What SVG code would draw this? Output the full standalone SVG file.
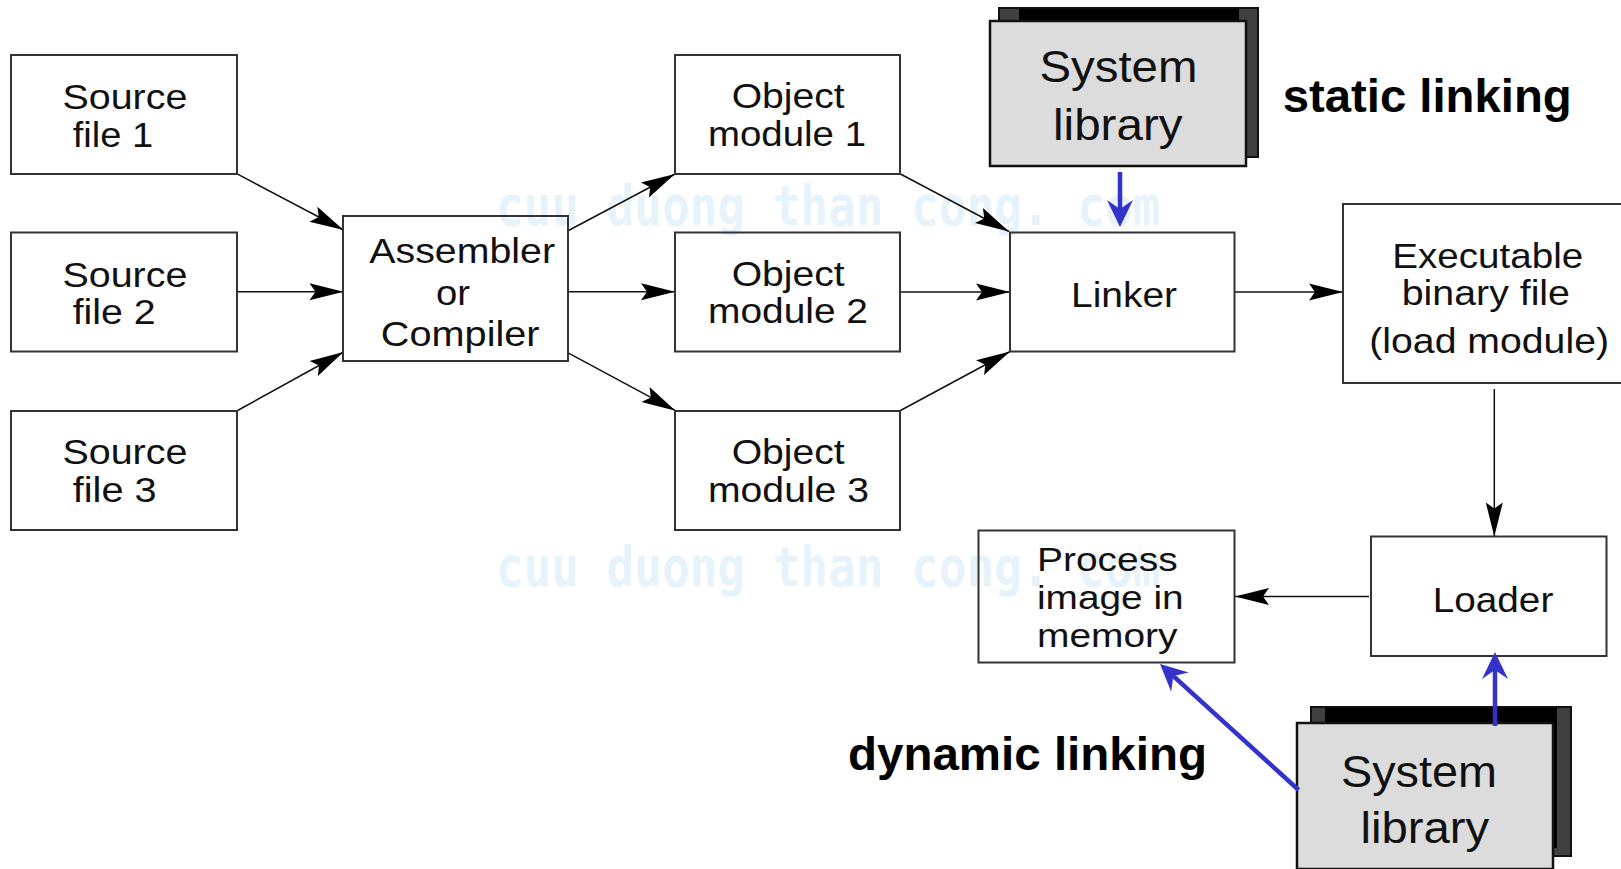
<svg xmlns="http://www.w3.org/2000/svg" width="1621" height="869" viewBox="0 0 1621 869">
<style>
.box{fill:none;stroke:#333;stroke-width:2}
.lib-back{fill:#404040;stroke:#111;stroke-width:2}
.lib-inner{fill:#000}
.lib-front{fill:#dcdcdc;stroke:#111;stroke-width:2.5}
.t{font-family:"Liberation Sans",Arial,Helvetica,sans-serif;font-size:35px;fill:#111}
.tp{font-family:"Liberation Sans",Arial,Helvetica,sans-serif;font-size:33.5px;fill:#111}
.tl{font-family:"Liberation Sans",Arial,Helvetica,sans-serif;font-size:44px;fill:#111}
.tb{font-family:"Liberation Sans",Arial,Helvetica,sans-serif;font-size:46px;font-weight:bold;fill:#000}
.wm{font-family:"DejaVu Sans Mono",monospace;font-size:46px;font-weight:bold;fill:#e6f3fa}
.ln{fill:none;stroke:#111;stroke-width:1.5}
.bl{fill:none;stroke:#3333cc;stroke-width:4.5}
</style>
<defs>
<marker id="ah" viewBox="-36 -10 38 20" refX="0" refY="0" markerWidth="38" markerHeight="20" markerUnits="userSpaceOnUse" orient="auto">
<path d="M0,0 L-34,-8.5 L-28,0 L-34,8.5 Z" fill="#000"/>
</marker>
<marker id="bh" viewBox="-28 -14 30 28" refX="-10" refY="0" markerWidth="30" markerHeight="28" markerUnits="userSpaceOnUse" orient="auto">
<path d="M0,0 L-27,-13 L-18,0 L-27,13 Z" fill="#3333cc"/>
</marker>
</defs>
<rect width="1621" height="869" fill="#fff"/>
<g id="watermark">
<text class="wm" transform="translate(496,225) scale(1,1.2)">cuu duong than cong. com</text>
<text class="wm" transform="translate(496,586) scale(1,1.2)">cuu duong than cong. com</text>
</g>
<g id="connectors">
<path class="ln" marker-end="url(#ah)" d="M236.7,173.7 L343.5,230"/>
<path class="ln" marker-end="url(#ah)" d="M236.7,291.7 L343.5,291.7"/>
<path class="ln" marker-end="url(#ah)" d="M236.7,411 L343.5,352"/>
<path class="ln" marker-end="url(#ah)" d="M567.6,231 L675,174"/>
<path class="ln" marker-end="url(#ah)" d="M567.6,291.7 L675,291.7"/>
<path class="ln" marker-end="url(#ah)" d="M567.6,352.7 L675.5,410.7"/>
<path class="ln" marker-end="url(#ah)" d="M899.5,173.5 L1009,231.5"/>
<path class="ln" marker-end="url(#ah)" d="M899.5,292 L1010,292"/>
<path class="ln" marker-end="url(#ah)" d="M899.5,411 L1010,351.5"/>
<path class="ln" marker-end="url(#ah)" d="M1234.5,292 L1343,292"/>
<path class="ln" marker-end="url(#ah)" d="M1494.3,389 L1494.3,536.5"/>
<path class="ln" marker-end="url(#ah)" d="M1369,596.5 L1235,596.5"/>
</g>
<g id="source1"><rect class="box" x="11" y="55" width="226" height="119"/>
<text class="t" x="62.4" y="109" textLength="125" lengthAdjust="spacingAndGlyphs">Source</text>
<text class="t" x="72.7" y="146.5" textLength="80.4" lengthAdjust="spacingAndGlyphs">file 1</text></g>
<g id="source2"><rect class="box" x="11" y="232.5" width="226" height="119"/>
<text class="t" x="62.4" y="286.5" textLength="125" lengthAdjust="spacingAndGlyphs">Source</text>
<text class="t" x="72.7" y="324" textLength="83" lengthAdjust="spacingAndGlyphs">file 2</text></g>
<g id="source3"><rect class="box" x="11" y="411" width="226" height="119"/>
<text class="t" x="62.4" y="464" textLength="125" lengthAdjust="spacingAndGlyphs">Source</text>
<text class="t" x="72.7" y="502" textLength="84" lengthAdjust="spacingAndGlyphs">file 3</text></g>
<g id="assembler"><rect class="box" x="343" y="216" width="225" height="145"/>
<text class="t" x="369.3" y="263" textLength="185.7" lengthAdjust="spacingAndGlyphs">Assembler</text>
<text class="t" x="436" y="305" textLength="34" lengthAdjust="spacingAndGlyphs">or</text>
<text class="t" x="380.8" y="345.5" textLength="158.8" lengthAdjust="spacingAndGlyphs">Compiler</text></g>
<g id="object1"><rect class="box" x="675" y="55" width="225" height="119"/>
<text class="t" x="731.7" y="108.3" textLength="113" lengthAdjust="spacingAndGlyphs">Object</text>
<text class="t" x="708" y="145.7" textLength="158" lengthAdjust="spacingAndGlyphs">module 1</text></g>
<g id="object2"><rect class="box" x="675" y="232.5" width="225" height="119"/>
<text class="t" x="731.7" y="286" textLength="113" lengthAdjust="spacingAndGlyphs">Object</text>
<text class="t" x="708" y="323.3" textLength="160" lengthAdjust="spacingAndGlyphs">module 2</text></g>
<g id="object3"><rect class="box" x="675" y="411" width="225" height="119"/>
<text class="t" x="731.7" y="464" textLength="113" lengthAdjust="spacingAndGlyphs">Object</text>
<text class="t" x="708" y="502" textLength="161" lengthAdjust="spacingAndGlyphs">module 3</text></g>
<g id="linker"><rect class="box" x="1010" y="232.5" width="224.5" height="119"/>
<text class="t" x="1071" y="307.3" textLength="106" lengthAdjust="spacingAndGlyphs">Linker</text></g>
<g id="executable"><rect class="box" x="1343" y="204" width="290" height="179"/>
<text class="t" x="1392.3" y="268.3" textLength="191" lengthAdjust="spacingAndGlyphs">Executable</text>
<text class="t" x="1401.7" y="305" textLength="168.3" lengthAdjust="spacingAndGlyphs">binary file</text>
<text class="t" x="1369.3" y="353.3" textLength="239.7" lengthAdjust="spacingAndGlyphs">(load module)</text></g>
<g id="loader"><rect class="box" x="1371" y="536.5" width="235.5" height="119.5"/>
<text class="t" x="1432.7" y="612.3" textLength="120.6" lengthAdjust="spacingAndGlyphs">Loader</text></g>
<g id="process"><rect class="box" x="978.5" y="530.5" width="256" height="132"/>
<text class="tp" x="1037" y="571" textLength="140.6" lengthAdjust="spacingAndGlyphs">Process</text>
<text class="tp" x="1037" y="609" textLength="146.7" lengthAdjust="spacingAndGlyphs">image in</text>
<text class="tp" x="1037" y="646.7" textLength="140.5" lengthAdjust="spacingAndGlyphs">memory</text></g>
<g id="syslib-static">
<rect class="lib-back" x="999" y="8" width="259" height="149"/>
<rect class="lib-inner" x="1019" y="9" width="220" height="140"/>
<rect class="lib-front" x="990" y="21" width="256" height="145"/>
<text class="tl" x="1039.4" y="81.7" textLength="158" lengthAdjust="spacingAndGlyphs">System</text>
<text class="tl" x="1053" y="140" textLength="129.5" lengthAdjust="spacingAndGlyphs">library</text></g>
<g id="syslib-dynamic">
<rect class="lib-back" x="1311" y="707" width="260" height="149"/>
<rect class="lib-inner" x="1325" y="708" width="232" height="140"/>
<rect class="lib-front" x="1297" y="723" width="256" height="146"/>
<text class="tl" x="1341" y="786.7" textLength="156" lengthAdjust="spacingAndGlyphs">System</text>
<text class="tl" x="1360.5" y="843.3" textLength="128.7" lengthAdjust="spacingAndGlyphs">library</text></g>
<g id="blue-connectors">
<path class="bl" marker-end="url(#bh)" d="M1120,172 L1120,217"/>
<path class="bl" marker-end="url(#bh)" d="M1298.6,790 L1167.4,670.7"/>
<path class="bl" marker-end="url(#bh)" d="M1495,726 L1495,662"/>
</g>
<g id="labels">
<text class="tb" x="1282.7" y="111.7" textLength="289" lengthAdjust="spacingAndGlyphs">static linking</text>
<text class="tb" x="848" y="770" textLength="359" lengthAdjust="spacingAndGlyphs">dynamic linking</text>
</g>
</svg>
